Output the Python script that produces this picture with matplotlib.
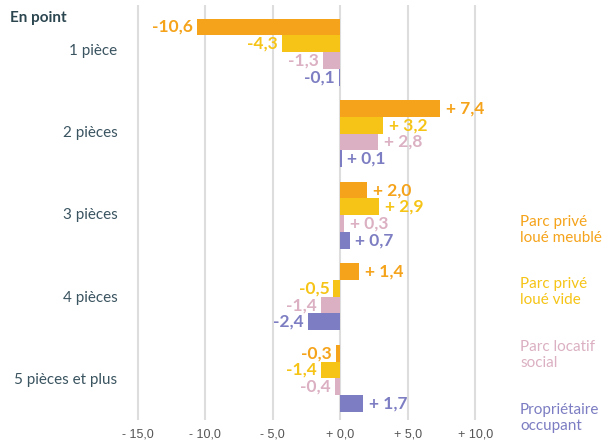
import numpy as np
import matplotlib.pyplot as plt

plt.rcParams['font.family'] = ['Lato', 'DejaVu Sans']

categories = ['1 pièce', '2 pièces', '3 pièces', '4 pièces', '5 pièces et plus']
series = ['Parc privé\nloué meublé', 'Parc privé\nloué vide', 'Parc locatif\nsocial', 'Propriétaire\noccupant']
meuble = [-10.6, 7.4, 2.0, 1.4, -0.3]
vide = [-4.3, 3.2, 2.9, -0.5, -1.4]
social = [-1.3, 2.8, 0.3, -1.4, -0.4]
proprio = [-0.1, 0.1, 0.7, -2.4, 1.7]
colors = ['#F5A31A', '#F6C416', '#DBB0C2', '#7C7DC2']
ticks = [-15, -10, -5, 0, 5, 10]

def fmt(v):
    s = f'{abs(v):.1f}'.replace('.', ',')
    return ('+ ' if v >= 0 else '-') + s

fig = plt.figure(figsize=(6.08, 4.44), dpi=100)
ax = fig.add_axes([120/608, 1-420/444, 385/608, 415/444])

y = np.arange(len(categories)) + 0.04
h = 0.205
offs = [-0.31, -0.105, 0.1, 0.305]
for vals, c, o in zip([meuble, vide, social, proprio], colors, offs):
    ax.barh(y + o, vals, height=h, color=c, zorder=3)
    for yi, v in zip(y + o, vals):
        if v < 0:
            ax.annotate(fmt(v), (v, yi), xytext=(-3, 0), textcoords='offset points',
                        ha='right', va='center', color=c, fontsize=12.5, fontweight='bold')
        else:
            ax.annotate(fmt(v), (v, yi), xytext=(4, 0), textcoords='offset points',
                        ha='left', va='center', color=c, fontsize=12.5, fontweight='bold')

ax.set_xlim(-16.3, 12.2)
ax.set_ylim(4.55, -0.54)
ax.set_xticks(ticks)
ax.set_xticklabels([('+ ' if t >= 0 else '- ') + f'{abs(t):.1f}'.replace('.', ',') for t in ticks],
                   fontfamily='Liberation Sans', fontsize=9, color='#555555')
ax.tick_params(axis='x', length=0, pad=6)
ax.set_yticks([])
for t in ticks:
    ax.axvline(t, color='#DDDDDD', lw=1.5, zorder=1)
for s in ax.spines.values():
    s.set_visible(False)

for yi, cat in zip(np.arange(len(categories)), categories):
    ax.text(-16.5, yi + 0.02 + 0.01 * yi, cat, ha='right', va='center', fontsize=11, color='#3A5460')

fig.text(10/608, 1-18/444, 'En point', ha='left', va='center', fontsize=11,
         fontweight='bold', color='#2C4650')

leg_y = [230, 292, 355, 418]
for ly, name, c in zip(leg_y, series, colors):
    fig.text(520/608, 1-ly/444, name, ha='left', va='center', fontsize=11,
             color=c, linespacing=1.15)

fig.savefig('out.png', dpi=100)
